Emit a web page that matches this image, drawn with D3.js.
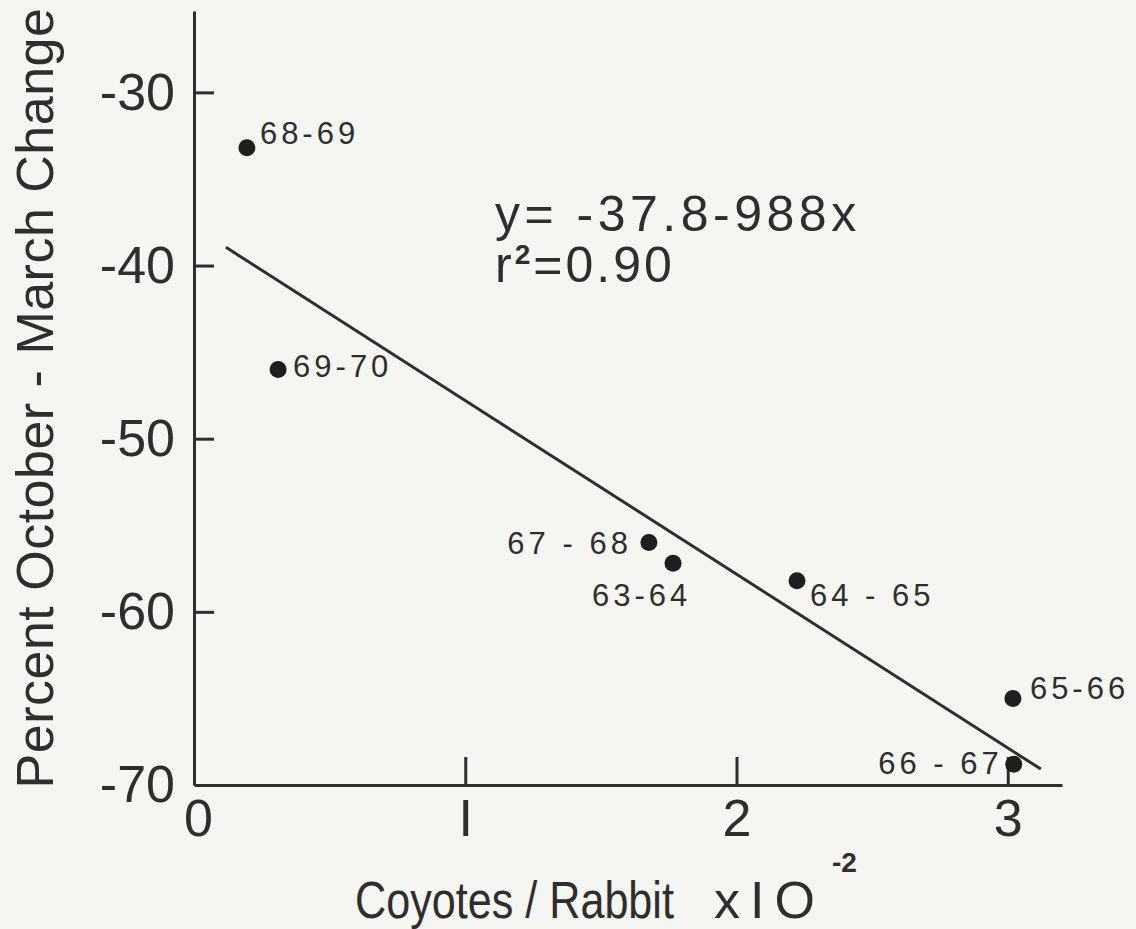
<!DOCTYPE html>
<html>
<head>
<meta charset="utf-8">
<script src="https://cdn.jsdelivr.net/npm/d3@7"></script>
<style>
  body { margin: 0; background: #f5f5f2; }
  svg { display: block; }
  text { font-family: "Liberation Sans", "DejaVu Sans", sans-serif; fill: #2e2e2e; }
</style>
</head>
<body>
<svg id="chart"></svg>
<script>
// Seasons and their values
const seasons = ['68-69', '69-70', '67 - 68', '63-64', '64 - 65', '65-66', '66 - 67'];
const coyotesPerRabbit = [0.195, 0.31, 1.677, 1.766, 2.223, 3.019, 3.022];
const percentChange = [-33.2, -46.0, -56.0, -57.2, -58.2, -65.0, -68.8];

// Fitted line endpoints as drawn
const fitX = [0.118, 3.122];
const fitY = [-38.95, -69.08];

const xTicks = [0, 1, 2, 3];
const yTicks = [-30, -40, -50, -60, -70];

// Where each season label sits relative to its dot
const labelPos = {
    '68-69':   { dx: 13,  dy: -4, anchor: 'start' },
    '69-70':   { dx: 15,  dy: 8,  anchor: 'start' },
    '67 - 68': { dx: -17, dy: 11, anchor: 'end' },
    '63-64':   { dx: -81, dy: 43, anchor: 'start' },
    '64 - 65': { dx: 13,  dy: 25, anchor: 'start' },
    '65-66':   { dx: 17,  dy: 1,  anchor: 'start' },
    '66 - 67': { dx: -11, dy: 10, anchor: 'end' }
};

const width = 1136;
const height = 929;
const ink = '#2e2e2e';

let svg = d3.select('#chart')
    .attr('width', width)
    .attr('height', height);

svg.append('rect')
    .attr('width', width)
    .attr('height', height)
    .attr('fill', '#f5f5f2');

// Scales (domains run a little past the last tick, like the drawn axes)
let x = d3.scaleLinear().domain([0, 3.2]).range([194, 1062]);
let y = d3.scaleLinear().domain([-70, -25.3]).range([785, 11]);

// Y axis, ticks pointing inward
let yAxis = svg.append('g')
    .attr('transform', 'translate(' + x(0) + ',0)')
    .call(d3.axisLeft(y)
        .tickValues(yTicks)
        .tickSize(-20)
        .tickSizeOuter(0)
        .tickPadding(19)
        .tickFormat(d => '-' + Math.abs(d)));

// X axis, ticks pointing up
let xAxis = svg.append('g')
    .attr('transform', 'translate(0,' + y(-70) + ')')
    .call(d3.axisBottom(x)
        .tickValues(xTicks)
        .tickSize(-28)
        .tickSizeOuter(0)
        .tickPadding(14)
        .tickFormat(d => d === 1 ? 'I' : d));

[xAxis, yAxis].forEach(g => {
    g.select('.domain').attr('stroke', ink).attr('stroke-width', 3);
    g.selectAll('.tick line').attr('stroke', ink).attr('stroke-width', 3);
    g.selectAll('.tick text')
        .attr('fill', ink)
        .style('font-size', '52px')
        .style('font-family', '"Liberation Sans", sans-serif');
});
xAxis.select('.tick text').attr('dx', 4);
xAxis.selectAll('.tick').filter(d => d === 0).select('line').remove();
yAxis.selectAll('.tick').filter(d => d === -70).select('line').remove();

// Regression line
svg.append('line')
    .attr('x1', x(fitX[0])).attr('y1', y(fitY[0]))
    .attr('x2', x(fitX[1])).attr('y2', y(fitY[1]))
    .attr('stroke', ink)
    .attr('stroke-width', 3);

// Points
let pts = seasons.map((s, i) => ({ name: s, cx: coyotesPerRabbit[i], cy: percentChange[i] }));

svg.selectAll('circle.pt')
    .data(pts)
    .enter()
    .append('circle')
    .attr('class', 'pt')
    .attr('cx', d => x(d.cx))
    .attr('cy', d => y(d.cy))
    .attr('r', 8.5)
    .attr('fill', '#1e1e1e');

svg.selectAll('text.lbl')
    .data(pts)
    .enter()
    .append('text')
    .attr('class', 'lbl')
    .attr('x', d => x(d.cx) + labelPos[d.name].dx)
    .attr('y', d => y(d.cy) + labelPos[d.name].dy)
    .attr('text-anchor', d => labelPos[d.name].anchor)
    .style('font-size', '31px')
    .style('letter-spacing', '4px')
    .text(d => d.name);

// Equation
svg.append('text')
    .attr('x', 495).attr('y', 231)
    .style('font-size', '50px')
    .style('letter-spacing', '4.5px')
    .text('y= -37.8-988x');

let r2 = svg.append('text')
    .attr('x', 495).attr('y', 282)
    .style('font-size', '50px')
    .style('letter-spacing', '3px');
r2.append('tspan').text('r');
r2.append('tspan').attr('dy', -18).style('font-size', '28px').style('font-weight', 'bold').text('2');
r2.append('tspan').attr('dy', 18).text('=0.90');

// Axis titles
svg.append('text')
    .attr('transform', 'translate(53,398) rotate(-90)')
    .attr('text-anchor', 'middle')
    .style('font-size', '52px')
    .style('letter-spacing', '0.5px')
    .text('Percent October - March Change');

// x title is lettered narrower than the rest, so squeeze it a little
svg.append('text')
    .attr('transform', 'translate(355,918) scale(0.83,1)')
    .style('font-size', '52px')
    .text('Coyotes / Rabbit');

svg.append('text')
    .attr('x', 714).attr('y', 918)
    .style('font-size', '52px')
    .style('letter-spacing', '10px')
    .text('xIO');

svg.append('text')
    .attr('x', 832).attr('y', 872)
    .style('font-size', '28px')
    .style('font-weight', 'bold')
    .text('-2');
</script>
</body>
</html>
